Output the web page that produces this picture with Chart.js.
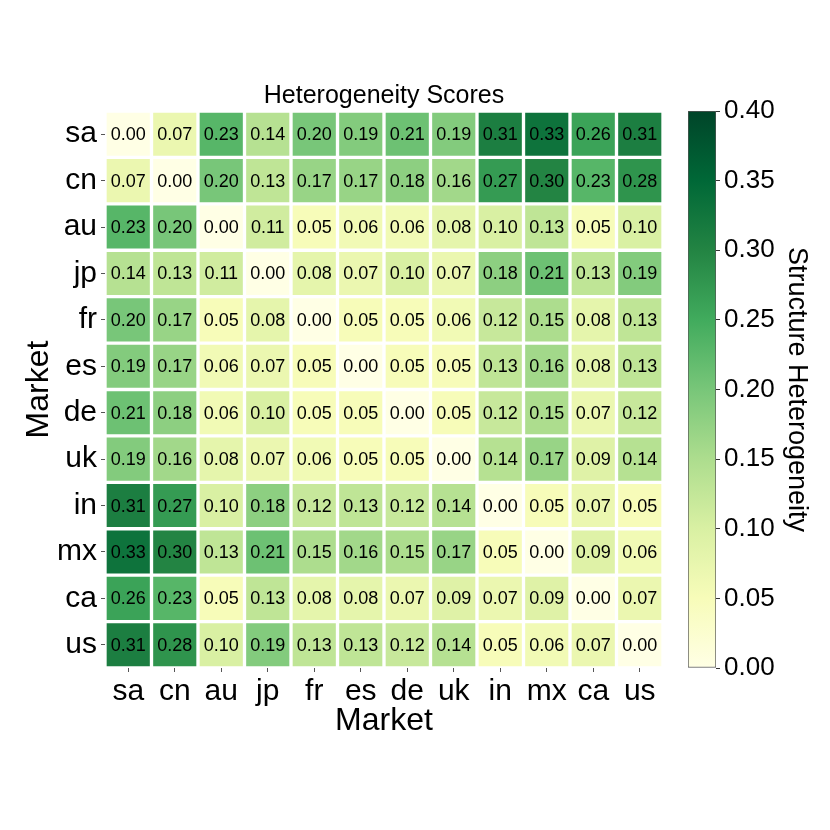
<!DOCTYPE html>
<html>
<head>
<meta charset="utf-8">
<script src="https://cdn.jsdelivr.net/npm/chart.js@4.4.0/dist/chart.umd.min.js"></script>
<style>
  html, body { margin: 0; padding: 0; background: #fff; }
  #wrap { position: relative; width: 830px; height: 830px; }
  #wrap canvas { position: absolute; left: 0; top: 0; }
</style>
</head>
<body>
<div id="wrap">
  <canvas id="heatChart" width="830" height="830"></canvas>
  <canvas id="colorbarChart" width="830" height="830"></canvas>
</div>
<script>
// market order, used for both axes
var markets = ['sa', 'cn', 'au', 'jp', 'fr', 'es', 'de', 'uk', 'in', 'mx', 'ca', 'us'];

// one row per market (same column order as markets)
var rowSa = [0.00, 0.07, 0.23, 0.14, 0.20, 0.19, 0.21, 0.19, 0.31, 0.33, 0.26, 0.31];
var rowCn = [0.07, 0.00, 0.20, 0.13, 0.17, 0.17, 0.18, 0.16, 0.27, 0.30, 0.23, 0.28];
var rowAu = [0.23, 0.20, 0.00, 0.11, 0.05, 0.06, 0.06, 0.08, 0.10, 0.13, 0.05, 0.10];
var rowJp = [0.14, 0.13, 0.11, 0.00, 0.08, 0.07, 0.10, 0.07, 0.18, 0.21, 0.13, 0.19];
var rowFr = [0.20, 0.17, 0.05, 0.08, 0.00, 0.05, 0.05, 0.06, 0.12, 0.15, 0.08, 0.13];
var rowEs = [0.19, 0.17, 0.06, 0.07, 0.05, 0.00, 0.05, 0.05, 0.13, 0.16, 0.08, 0.13];
var rowDe = [0.21, 0.18, 0.06, 0.10, 0.05, 0.05, 0.00, 0.05, 0.12, 0.15, 0.07, 0.12];
var rowUk = [0.19, 0.16, 0.08, 0.07, 0.06, 0.05, 0.05, 0.00, 0.14, 0.17, 0.09, 0.14];
var rowIn = [0.31, 0.27, 0.10, 0.18, 0.12, 0.13, 0.12, 0.14, 0.00, 0.05, 0.07, 0.05];
var rowMx = [0.33, 0.30, 0.13, 0.21, 0.15, 0.16, 0.15, 0.17, 0.05, 0.00, 0.09, 0.06];
var rowCa = [0.26, 0.23, 0.05, 0.13, 0.08, 0.08, 0.07, 0.09, 0.07, 0.09, 0.00, 0.07];
var rowUs = [0.31, 0.28, 0.10, 0.19, 0.13, 0.13, 0.12, 0.14, 0.05, 0.06, 0.07, 0.00];

var scores = [rowSa, rowCn, rowAu, rowJp, rowFr, rowEs, rowDe, rowUk, rowIn, rowMx, rowCa, rowUs];

// colour scale range
var scaleMin = 0;
var scaleMax = 0.4;

// YlGn colormap stops
var ylgn = ['#ffffe5', '#f7fcb9', '#d9f0a3', '#addd8e', '#78c679', '#41ab5d', '#238443', '#006837', '#004529'];

var fontFamily = '"Liberation Sans", Arial, Helvetica, sans-serif';
Chart.defaults.font.family = fontFamily;
Chart.defaults.color = '#000';

function hexToRgb(h) {
    return [parseInt(h.substr(1, 2), 16), parseInt(h.substr(3, 2), 16), parseInt(h.substr(5, 2), 16)];
}

function cellColor(v) {
    var t = Math.min(Math.max((v - scaleMin) / (scaleMax - scaleMin), 0), 1) * (ylgn.length - 1);
    var i = Math.min(Math.floor(t), ylgn.length - 2);
    var f = t - i;
    var a = hexToRgb(ylgn[i]);
    var b = hexToRgb(ylgn[i + 1]);
    return 'rgb(' + Math.round(a[0] + (b[0] - a[0]) * f) + ',' +
        Math.round(a[1] + (b[1] - a[1]) * f) + ',' +
        Math.round(a[2] + (b[2] - a[2]) * f) + ')';
}

// each row is one dataset of floating bars spanning its row slot
var datasets = scores.map(function (row, r) {
    return {
        label: markets[r],
        data: row.map(function () { return [r - 0.5, r + 0.5]; }),
        backgroundColor: row.map(cellColor),
        borderColor: '#ffffff',
        borderWidth: 2,
        borderSkipped: false,
        barPercentage: 1,
        categoryPercentage: 1,
        grouped: false
    };
});

var cellLabels = {
    id: 'cellLabels',
    afterDatasetsDraw: function (chart) {
        var ctx = chart.ctx;
        ctx.save();
        ctx.font = '18px ' + fontFamily;
        ctx.fillStyle = '#000';
        ctx.textAlign = 'center';
        ctx.textBaseline = 'middle';
        chart.data.datasets.forEach(function (ds, r) {
            chart.getDatasetMeta(r).data.forEach(function (bar, c) {
                var p = bar.getCenterPoint();
                ctx.fillText(scores[r][c].toFixed(2), p.x, p.y + 1);
            });
        });
        ctx.restore();
    }
};

document.addEventListener('DOMContentLoaded', function () {
    new Chart(document.getElementById('heatChart').getContext('2d'), {
        type: 'bar',
        data: { labels: markets, datasets: datasets },
        options: {
            responsive: false,
            animation: false,
            layout: { padding: { left: 20, right: 167, top: 0, bottom: 90 } },
            plugins: {
                legend: { display: false },
                tooltip: { enabled: false },
                title: {
                    display: true,
                    text: 'Heterogeneity Scores',
                    fullSize: false,
                    color: '#000',
                    font: { size: 25, weight: 'normal' },
                    padding: { top: 81, bottom: 0 }
                }
            },
            scales: {
                x: {
                    type: 'category',
                    offset: true,
                    grid: { offset: false, drawOnChartArea: false, tickLength: 4, color: '#555' },
                    border: { display: false },
                    ticks: { color: '#000', font: { size: 30 }, padding: 2, maxRotation: 0 },
                    title: { display: true, text: 'Market', color: '#000', font: { size: 32 }, padding: 0 },
                    afterFit: function (s) { s.height = 72; }
                },
                y: {
                    type: 'linear',
                    reverse: true,
                    min: -0.5,
                    max: 11.5,
                    afterBuildTicks: function (s) {
                        s.ticks = markets.map(function (m, i) { return { value: i }; });
                    },
                    grid: { drawOnChartArea: false, tickLength: 4, color: '#555' },
                    border: { display: false },
                    ticks: {
                        color: '#000',
                        font: { size: 30 },
                        padding: 4,
                        callback: function (v) { return markets[v]; }
                    },
                    title: { display: true, text: 'Market', color: '#000', font: { size: 32 }, padding: 0 },
                    afterFit: function (s) { s.width = 85; }
                }
            }
        },
        plugins: [cellLabels]
    });

    new Chart(document.getElementById('colorbarChart').getContext('2d'), {
        type: 'bar',
        data: {
            labels: [''],
            datasets: [{
                data: [[scaleMin, scaleMax]],
                backgroundColor: function (c) {
                    var area = c.chart.chartArea;
                    if (!area) return ylgn[4];
                    var g = c.chart.ctx.createLinearGradient(0, area.bottom, 0, area.top);
                    ylgn.forEach(function (col, i) { g.addColorStop(i / (ylgn.length - 1), col); });
                    return g;
                },
                borderColor: '#555',
                borderWidth: 1,
                borderSkipped: false,
                barPercentage: 1,
                categoryPercentage: 1
            }]
        },
        options: {
            responsive: false,
            animation: false,
            layout: { padding: { left: 688, right: 17, top: 111, bottom: 162 } },
            plugins: { legend: { display: false }, tooltip: { enabled: false } },
            scales: {
                x: { display: false },
                y: {
                    position: 'right',
                    min: scaleMin,
                    max: scaleMax,
                    grid: { drawOnChartArea: false, tickLength: 4, color: '#333' },
                    border: { display: false },
                    ticks: {
                        stepSize: 0.05,
                        color: '#000',
                        font: { size: 26 },
                        padding: 4,
                        callback: function (v) { return v.toFixed(2); }
                    },
                    title: { display: true, text: 'Structure Heterogeneity', color: '#000', font: { size: 27 }, padding: 0 },
                    afterFit: function (s) { s.width = 97; }
                }
            }
        }
    });
});
</script>
</body>
</html>
